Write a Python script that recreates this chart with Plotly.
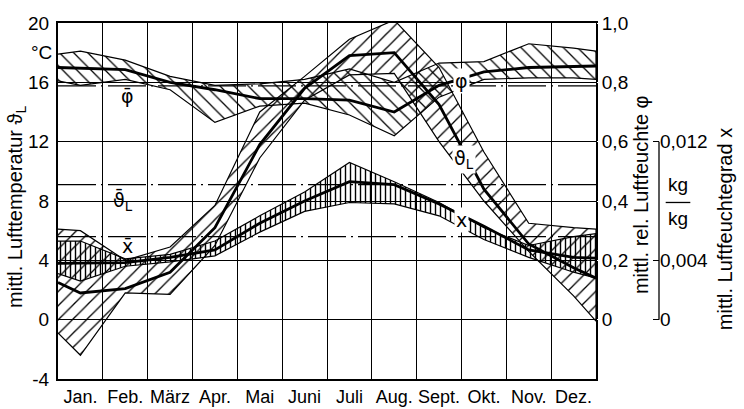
import plotly.graph_objects as go

# ---------------- data ----------------
months = ["Jan.", "Feb.", "März", "Apr.", "Mai", "Juni", "Juli", "Aug.", "Sept.", "Okt.", "Nov.", "Dez."]

# values at left edge, the 12 month centres, right edge
phi_upper = [0.895, 0.905, 0.875, 0.82, 0.79, 0.795, 0.81, 0.845, 0.80, 0.865, 0.87, 0.93, 0.915, 0.905]
phi_mean  = [0.85, 0.848, 0.843, 0.80, 0.775, 0.745, 0.745, 0.74, 0.70, 0.79, 0.835, 0.85, 0.855, 0.855]
phi_lower = [0.805, 0.79, 0.81, 0.775, 0.665, 0.72, 0.73, 0.69, 0.62, 0.75, 0.81, 0.815, 0.815, 0.81]

t_upper = [6.1, 6.0, 4.0, 4.9, 7.7, 14.0, 16.4, 18.9, 20.2, 17.0, 11.3, 6.5, 6.2, 6.1]
t_mean  = [2.5, 1.8, 2.1, 3.2, 6.2, 11.8, 15.6, 17.8, 18.0, 14.5, 8.8, 5.1, 3.5, 2.8]
t_lower = [-0.9, -2.4, 1.8, 1.7, 5.0, 10.9, 14.8, 16.5, 16.6, 12.0, 8.0, 4.6, 1.6, -0.1]

x_upper = [0.0053, 0.0053, 0.0041, 0.0044, 0.0053, 0.0070, 0.0086, 0.0106, 0.0093, 0.0079, 0.0062, 0.0050, 0.0056, 0.0058]
x_mean  = [0.0038, 0.0038, 0.00385, 0.0042, 0.0047, 0.0065, 0.0080, 0.0093, 0.0091, 0.0078, 0.0063, 0.0047, 0.0042, 0.00415]
x_lower = [0.0031, 0.0026, 0.0036, 0.0039, 0.0043, 0.0059, 0.0073, 0.0079, 0.0078, 0.0070, 0.0054, 0.0042, 0.0032, 0.0028]

phi_bar = 0.788
t_bar = 9.1
x_bar = 0.0056

t_ticks = [-4, 0, 4, 8, 12, 16, 20]
phi_ticks = [0, 0.2, 0.4, 0.6, 0.8, 1.0]
phi_ticktext = ["0", "0,2", "0,4", "0,6", "0,8", "1,0"]
x_ticks = [0, 0.004, 0.012]
x_ticktext = ["0", "0,004", "0,012"]

# ---------------- figure ----------------
n = len(months)
x_pts = [0.0] + [i + 0.5 for i in range(n)] + [float(n)]
FONT = "Liberation Sans, Arial, DejaVu Sans"
SYM = "DejaVu Sans"

fig = go.Figure()


def band(up, lo, shape, yaxis, size, solidity):
    fig.add_trace(go.Scatter(
        x=x_pts + x_pts[::-1], y=up + lo[::-1], yaxis=yaxis,
        mode="lines", fill="toself", fillcolor="rgba(0,0,0,0)",
        fillpattern=dict(shape=shape, fgcolor="black", bgcolor="rgba(0,0,0,0)",
                         size=size, solidity=solidity, fillmode="replace"),
        line=dict(color="black", width=1.2), hoverinfo="skip"))


def line(y, yaxis, width):
    fig.add_trace(go.Scatter(x=x_pts, y=y, yaxis=yaxis, mode="lines",
                             line=dict(color="black", width=width), hoverinfo="skip"))


def meanline(v, yaxis):
    fig.add_trace(go.Scatter(x=[0, n], y=[v, v], yaxis=yaxis, mode="lines",
                             line=dict(color="black", width=1.2, dash="38px,5px,2px,5px"),
                             hoverinfo="skip"))


# temperature band
band(t_upper, t_lower, "/", "y", 10, 0.13)
line(t_mean, "y", 2.8)
meanline(t_bar, "y")

# relative humidity band
band(phi_upper, phi_lower, "\\", "y2", 10, 0.13)
line(phi_mean, "y2", 2.8)
meanline(phi_bar, "y2")

# humidity ratio band
band(x_upper, x_lower, "|", "y3", 5, 0.28)
line(x_mean, "y3", 2.8)
meanline(x_bar, "y3")

plot_w = 744 - 58 - 2
dom_r = (596 - 58) / plot_w
pos3 = (659 - 58) / plot_w


def px(v):
    return (v - 58) / plot_w


fig.update_layout(
    width=744, height=409,
    margin=dict(l=58, r=2, t=23, b=24),
    paper_bgcolor="white", plot_bgcolor="white",
    showlegend=False,
    font=dict(family=FONT, size=18, color="black"),
    xaxis=dict(domain=[0, dom_r], range=[0, n], tickvals=x_pts[1:-1], ticktext=months,
               showgrid=False, zeroline=False, ticks="", tickfont=dict(size=18),
               showline=True, mirror=True, linecolor="black", linewidth=2,
               minor=dict(tickvals=list(range(n + 1)), showgrid=True, gridcolor="black",
                          gridwidth=1.4, ticks="")),
    yaxis=dict(range=[-4, 20], tickvals=t_ticks, ticktext=[str(v) for v in t_ticks],
               showgrid=True, gridcolor="black", gridwidth=1.4, zeroline=False,
               showline=True, mirror=True, linecolor="black", linewidth=2,
               ticks="outside", ticklen=3, tickcolor="white", tickfont=dict(size=19)),
    yaxis2=dict(overlaying="y", side="right", anchor="x", range=[-0.2, 1.0],
                tickvals=phi_ticks, ticktext=phi_ticktext, showgrid=False, zeroline=False,
                showline=False, ticks="outside", ticklen=1, tickcolor="white",
                tickfont=dict(size=19)),
    yaxis3=dict(overlaying="y", side="right", anchor="free", position=pos3,
                range=[-0.004, 0.020], tickvals=x_ticks, ticktext=x_ticktext,
                showgrid=False, zeroline=False, showline=False,
                ticks="inside", ticklen=6, tickwidth=1.3, tickcolor="black",
                tickfont=dict(size=19)),
)

# third axis line
fig.add_shape(type="line", xref="paper", x0=pos3, x1=pos3, yref="y3", y0=0, y1=0.012,
              line=dict(color="black", width=1.3))

# fraction kg/kg
kx = px(678)
fig.add_shape(type="line", xref="paper", x0=kx - 0.018, x1=kx + 0.018, yref="y3",
              y0=0.0079, y1=0.0079, line=dict(color="black", width=1.3))
fig.add_annotation(xref="paper", x=kx, xanchor="center", yref="y3", y=0.0091, text="kg",
                   showarrow=False, font=dict(size=19))
fig.add_annotation(xref="paper", x=kx, xanchor="center", yref="y3", y=0.0068, text="kg",
                   showarrow=False, font=dict(size=19))

# axis titles
fig.add_annotation(xref="paper", x=px(17), xanchor="center", yref="y", y=7.6, textangle=-90,
                   text="mittl. Lufttemperatur ϑ<sub>L</sub>", showarrow=False, font=dict(size=20))
fig.add_annotation(xref="paper", x=px(641), xanchor="center", yref="y", y=8.4, textangle=-90,
                   text="mittl. rel. Luftfeuchte φ", showarrow=False, font=dict(size=20))
fig.add_annotation(xref="paper", x=px(725), xanchor="center", yref="y", y=6.1, textangle=-90,
                   text="mittl. Luftfeuchtegrad x", showarrow=False, font=dict(size=20))
fig.add_annotation(xref="paper", x=px(54), xanchor="right", yref="y", y=18.0,
                   text="°C", showarrow=False, font=dict(size=19))

# mean labels
fig.add_annotation(x=1.54, y=15.1, text="φ\u0304", showarrow=False, font=dict(size=19, family=SYM))
fig.add_annotation(x=1.45, y=8.0, text="ϑ\u0304<sub>L</sub>", showarrow=False,
                   font=dict(size=19, family=SYM))
fig.add_annotation(x=1.54, y=5.0, text="x\u0304", showarrow=False, font=dict(size=19, family=SYM))

# curve labels
fig.add_annotation(x=9.0, y=16.1, text="φ", showarrow=False, bgcolor="white",
                   font=dict(size=19, family=SYM))
fig.add_annotation(x=9.05, y=10.8, text="ϑ<sub>L</sub>", showarrow=False, bgcolor="white",
                   font=dict(size=19, family=SYM))
fig.add_annotation(x=9.0, y=6.7, text="x", showarrow=False, bgcolor="white",
                   font=dict(size=19, family=SYM))

fig.write_html("out.html")
